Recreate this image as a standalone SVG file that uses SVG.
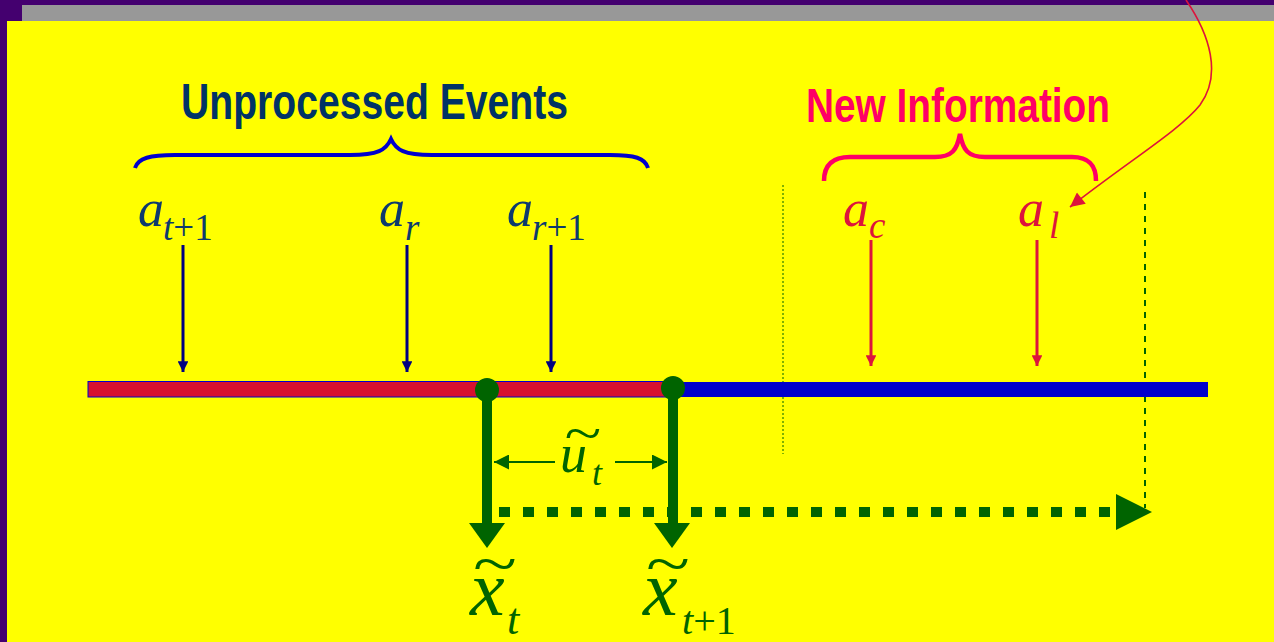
<svg xmlns="http://www.w3.org/2000/svg" width="1274" height="642" viewBox="0 0 1274 642">
<defs>
<style>
.m{font-family:"Liberation Serif","Times New Roman",serif;font-style:italic}
.r{font-style:normal}
.blue{fill:#0d3a6e}
.red{fill:#dc143c}
.grn{fill:#006400}
.title{font-family:"Liberation Sans",Arial,sans-serif;font-weight:bold}
</style>
<marker id="hb" viewBox="0 0 10 10" refX="10" refY="5" markerWidth="3.6" markerHeight="3.6" orient="auto" markerUnits="strokeWidth"><path d="M0,0 L10,5 L0,10 z" fill="#000080"/></marker>
<marker id="hr" viewBox="0 0 10 10" refX="10" refY="5" markerWidth="3.6" markerHeight="3.6" orient="auto" markerUnits="strokeWidth"><path d="M0,0 L10,5 L0,10 z" fill="#dc143c"/></marker>
<marker id="hc" viewBox="0 0 10 10" refX="10" refY="5" markerWidth="12" markerHeight="9" orient="auto" markerUnits="strokeWidth"><path d="M0,0 L10,5 L0,10 z" fill="#dc143c"/></marker>
<marker id="hg" viewBox="0 0 10 10" refX="10" refY="5" markerWidth="7.5" markerHeight="7.5" orient="auto" markerUnits="strokeWidth"><path d="M0,0 L10,5 L0,10 z" fill="#006400"/></marker>
</defs>
<rect x="0" y="0" width="1274" height="642" fill="#44006f"/>
<rect x="22" y="5" width="1252" height="16" fill="#989898"/>
<rect x="7" y="21" width="1267" height="621" fill="#ffff00"/>

<g id="unprocessed-label">
<text class="title" x="181" y="119" font-size="50" fill="#003366" textLength="387" lengthAdjust="spacingAndGlyphs">Unprocessed Events</text>
<path d="M135,168 C138,158 150,155 175,155 L350,155 C378,155 386,150 391,139 C396,150 404,155 432,155 L610,155 C635,155 645,158 648,168" fill="none" stroke="#0000cc" stroke-width="4"/>
</g>
<g id="newinfo-label">
<text class="title" x="806" y="122" font-size="48" fill="#ff0066" textLength="304" lengthAdjust="spacingAndGlyphs">New Information</text>
<path d="M824,181 C824,166 832,157 850,157 L935,157 C952,157 957,150 960,134 C963,150 968,157 985,157 L1072,157 C1090,157 1096,166 1096,181" fill="none" stroke="#ff0066" stroke-width="4.5"/>
</g>

<g id="guides">
<line x1="783" y1="185" x2="783" y2="454" stroke="#006400" stroke-width="1" stroke-dasharray="2 2"/>
<line x1="1145" y1="192" x2="1145" y2="508" stroke="#006400" stroke-width="2" stroke-dasharray="6 6"/>
</g>

<g id="timeline">
<rect x="88" y="381.5" width="584" height="15.5" fill="#d7102f" stroke="#0000cc" stroke-width="1"/>
<rect x="672" y="382" width="536" height="15" fill="#0000cc"/>
</g>

<g id="event-a-t1">
<text class="m blue" x="138" y="226" font-size="52">a</text>
<text class="m blue" x="163" y="240" font-size="37">t<tspan class="r">+1</tspan></text>
</g>
<g id="event-a-r">
<text class="m blue" x="379" y="226" font-size="52">a</text>
<text class="m blue" x="405" y="240" font-size="37">r</text>
</g>
<g id="event-a-r1">
<text class="m blue" x="507" y="226" font-size="52">a</text>
<text class="m blue" x="532" y="240" font-size="37">r<tspan class="r">+1</tspan></text>
</g>
<g id="event-a-c">
<text class="m red" x="843" y="226" font-size="52">a</text>
<text class="m red" x="869" y="238" font-size="37">c</text>
</g>
<g id="event-a-l">
<text class="m red" x="1018" y="226" font-size="52">a</text>
<text class="m red" x="1049" y="238" font-size="37">l</text>
</g>

<g id="point-xt">
<circle cx="487" cy="390" r="12" fill="#006400"/>
<text class="m grn" font-size="60" text-anchor="middle" transform="translate(494,584) scale(1.35,1)">~</text>
<text class="m grn" x="470" y="615" font-size="78">x</text>
<text class="m grn" x="507" y="634" font-size="44">t</text>
</g>
<g id="point-xt1">
<circle cx="673" cy="388" r="12" fill="#006400"/>
<text class="m grn" font-size="60" text-anchor="middle" transform="translate(667,584) scale(1.35,1)">~</text>
<text class="m grn" x="643" y="615" font-size="78">x</text>
<text class="m grn" x="682" y="634" font-size="40">t<tspan class="r">+1</tspan></text>
</g>
<g id="interval-ut">
<text class="m grn" font-size="52" text-anchor="middle" transform="translate(582,451) scale(1.3,1)">~</text>
<text class="m grn" x="560" y="472" font-size="54">u</text>
<text class="m grn" x="592" y="485" font-size="36">t</text>
</g>

<g id="connectors">
<line x1="183" y1="245" x2="183" y2="372" stroke="#000080" stroke-width="3" marker-end="url(#hb)"/>
<line x1="407" y1="245" x2="407" y2="372" stroke="#000080" stroke-width="3" marker-end="url(#hb)"/>
<line x1="551" y1="245" x2="551" y2="372" stroke="#000080" stroke-width="3" marker-end="url(#hb)"/>
<line x1="871" y1="240" x2="871" y2="366" stroke="#dc143c" stroke-width="3" marker-end="url(#hr)"/>
<line x1="1037" y1="240" x2="1037" y2="366" stroke="#dc143c" stroke-width="3" marker-end="url(#hr)"/>
<path d="M1186,0 C1210,35 1222,75 1200,105 C1180,130 1130,160 1070,207" fill="none" stroke="#dc143c" stroke-width="1.6" marker-end="url(#hc)"/>
<line x1="487" y1="390" x2="487" y2="524" stroke="#006400" stroke-width="10"/>
<path d="M469,523 L505,523 L487,548 z" fill="#006400"/>
<line x1="673" y1="388" x2="673" y2="524" stroke="#006400" stroke-width="10"/>
<path d="M654,523 L690,523 L672,548 z" fill="#006400"/>
<line x1="499" y1="512" x2="1111" y2="512" stroke="#006400" stroke-width="10" stroke-dasharray="11 13"/>
<path d="M1116,494 L1152,512 L1116,530 z" fill="#006400"/>
<line x1="555" y1="462" x2="494" y2="462" stroke="#006400" stroke-width="2" marker-end="url(#hg)"/>
<line x1="615" y1="462" x2="667" y2="462" stroke="#006400" stroke-width="2" marker-end="url(#hg)"/>
</g>
</svg>
